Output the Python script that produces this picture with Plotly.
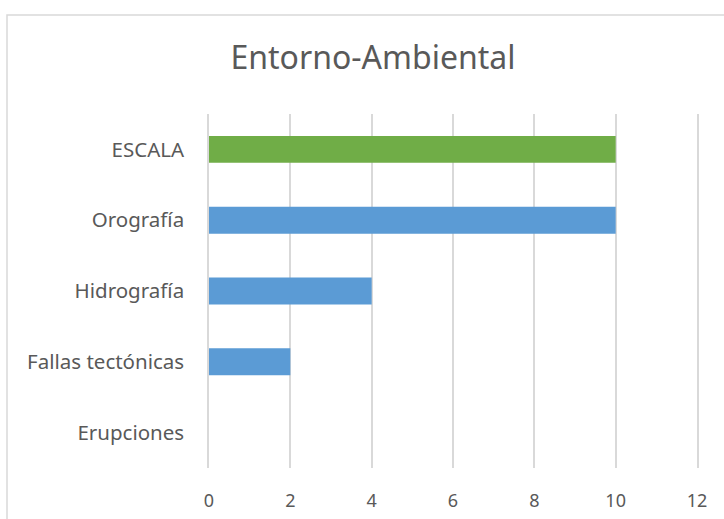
import plotly.graph_objs as go

# datos (de arriba hacia abajo)
categorias = ['ESCALA', 'Orografía', 'Hidrografía', 'Fallas tectónicas', 'Erupciones']
valores = [10, 10, 4, 2, 0]
colores = ['#70AD47', '#5B9BD5', '#5B9BD5', '#5B9BD5', '#5B9BD5']
x_ticks = [0, 2, 4, 6, 8, 10, 12]

texto = '#595959'
rejilla = '#D9D9D9'

trace = go.Bar(
    x=valores, y=categorias, orientation='h',
    marker=dict(color=colores, line=dict(width=0)),
    showlegend=False)

layout = go.Layout(
    width=724,
    height=519,
    paper_bgcolor='white',
    plot_bgcolor='white',
    font=dict(family='Noto Sans', color=texto),
    title=dict(text='Entorno-Ambiental', x=373 / 724, xanchor='center',
               y=1 - 58 / 519, yanchor='middle',
               font=dict(size=32, color=texto, family='Noto Sans')),
    xaxis=dict(range=[0, 12], tickvals=x_ticks, showgrid=True, gridcolor=rejilla,
               gridwidth=1.5, zeroline=False, showline=False, automargin=False,
               ticks='outside', ticklen=16, tickcolor='rgba(0,0,0,0)',
               tickfont=dict(size=18, color=texto)),
    # las lineas en 0 y 12 se dibujan como linea del eje y su espejo
    yaxis=dict(autorange='reversed', showgrid=False, zeroline=False, automargin=False,
               showline=True, linecolor=rejilla, linewidth=1.5, mirror=True,
               ticks='outside', ticklen=19, tickcolor='rgba(0,0,0,0)',
               tickfont=dict(size=20.5, color=texto)),
    bargap=0.62,
    margin=dict(l=209, r=27, t=114, b=51),
    # borde del área del gráfico
    shapes=[dict(type='rect', xref='paper', yref='paper',
                 x0=(7 - 209) / 488, x1=1.2, y0=-0.3, y1=(468 - 15) / 354,
                 line=dict(color='#D9D9D9', width=1.5), layer='below')],
)

fig = go.Figure(data=[trace], layout=layout)
# sin margen del body para que la figura empiece en (0, 0)
fig.write_html('out.html', config={'displayModeBar': False},
               post_script="document.body.style.margin='0px';")
